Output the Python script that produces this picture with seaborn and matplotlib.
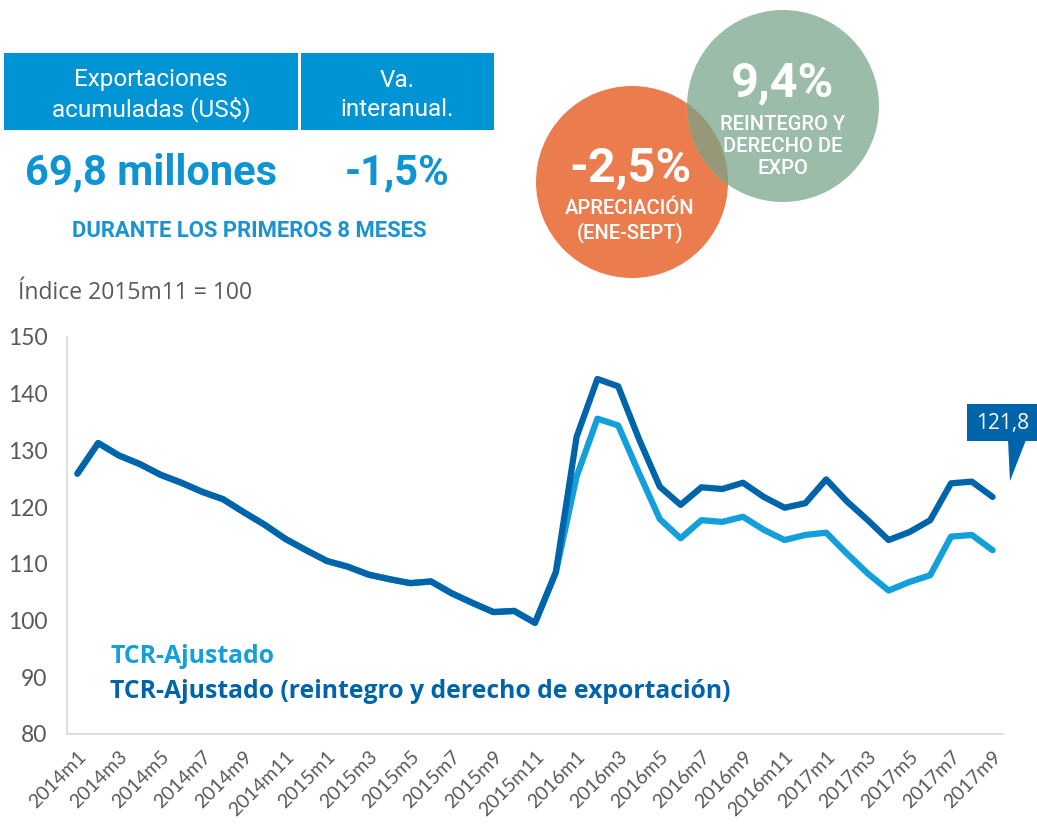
import matplotlib
matplotlib.use("Agg")
import matplotlib.pyplot as plt
import numpy as np
import pandas as pd
import seaborn as sns
from matplotlib.patches import Circle, Polygon, Rectangle

YEARS = [2014, 2015, 2016, 2017]
PERIODS = [f"{y}m{m}" for y in YEARS for m in range(1, 13)][:45]

TCR_REINTEGRO = [
    125.9, 131.3, 129.1, 127.6, 125.7, 124.3, 122.7, 121.4, 119.1, 116.9,
    114.4, 112.4, 110.5, 109.5, 108.1, 107.3, 106.6, 106.9, 104.8, 103.1,
    101.5, 101.7, 99.6, 108.5, 132.4, 142.6, 141.3, 132.0, 123.6, 120.4,
    123.5, 123.2, 124.3, 121.8, 119.9, 120.7, 124.9, 121.0, 117.7, 114.2,
    115.6, 117.7, 124.2, 124.5, 121.8,
]
TCR_AJUSTADO = [
    125.9, 131.3, 129.1, 127.6, 125.7, 124.3, 122.7, 121.4, 119.1, 116.9,
    114.4, 112.4, 110.5, 109.5, 108.1, 107.3, 106.6, 106.9, 104.8, 103.1,
    101.5, 101.7, 99.6, 108.5, 125.4, 135.6, 134.4, 126.0, 117.9, 114.5,
    117.7, 117.4, 118.3, 116.0, 114.2, 115.1, 115.5, 111.8, 108.3, 105.3,
    106.8, 108.0, 114.8, 115.1, 112.4,
]
Y_TICKS = [80, 90, 100, 110, 120, 130, 140, 150]

LIGHT = "#139FD9"
DARK = "#0064AA"
BOX_BLUE = "#0094D4"
GRAY = "#595959"

sns.set_style("white")
plt.rcParams["font.family"] = ["Lato", "DejaVu Sans"]

df = pd.DataFrame({
    "idx": np.arange(len(PERIODS)),
    "ajustado": TCR_AJUSTADO,
    "reintegro": TCR_REINTEGRO,
})

fig = plt.figure(figsize=(10.37, 8.26), dpi=100)
ax = fig.add_axes([67 / 1037, 1 - 734 / 826, (1003 - 67) / 1037, (734 - 337) / 826])

sns.lineplot(data=df, x="idx", y="ajustado", ax=ax, color=LIGHT, linewidth=4.5,
             solid_capstyle="round", solid_joinstyle="round")
sns.lineplot(data=df, x="idx", y="reintegro", ax=ax, color=DARK, linewidth=4.5,
             solid_capstyle="round", solid_joinstyle="round")

ax.set_xlim(-0.5, len(PERIODS) - 0.5)
ax.set_ylim(80, 150)
ax.set_yticks(Y_TICKS)
ax.set_yticklabels([str(v) for v in Y_TICKS], fontsize=16.5, color=GRAY)
ax.set_xticks(df["idx"][::2])
ax.set_xticklabels(PERIODS[::2], rotation=45, ha="right", rotation_mode="anchor",
                   fontsize=14, color=GRAY)
ax.tick_params(axis="y", length=0, pad=14)
ax.tick_params(axis="x", length=0, pad=10)
ax.set_xlabel("")
ax.set_ylabel("")
for side in ["top", "right"]:
    ax.spines[side].set_visible(False)
for side in ["left", "bottom"]:
    ax.spines[side].set_color("#D9D9D9")
    ax.spines[side].set_linewidth(1.2)

ax.text(0.046, 0.194, "TCR-Ajustado", transform=ax.transAxes, fontsize=17.8,
        fontweight="bold", color=LIGHT, va="center", family=["Open Sans", "DejaVu Sans"])
ax.text(0.046, 0.106, "TCR-Ajustado (reintegro y derecho de exportación)",
        transform=ax.transAxes, fontsize=17.8, fontweight="bold", color=DARK,
        va="center", family=["Open Sans", "DejaVu Sans"])

# overlay in pixel coordinates for header, bubbles and the callout
ov = fig.add_axes([0, 0, 1, 1], facecolor="none")
ov.set_xlim(0, 1037)
ov.set_ylim(826, 0)
ov.axis("off")

ov.add_patch(Rectangle((4, 53), 294, 77, color=BOX_BLUE, lw=0))
ov.add_patch(Rectangle((301, 53), 193, 77, color=BOX_BLUE, lw=0))
head = ["Roboto", "DejaVu Sans"]
ov.text(151, 95, "Exportaciones\nacumuladas (US$)", ha="center", va="center",
        color="white", fontsize=17.5, family=head, linespacing=1.32)
ov.text(397, 95, "Va.\ninteranual.", ha="center", va="center",
        color="white", fontsize=17.5, family=head, linespacing=1.32)
ov.text(151, 173, "69,8 millones", ha="center", va="center", color="#0E93D3",
        fontsize=30, fontweight="bold", family=head)
ov.text(397, 173, "-1,5%", ha="center", va="center", color="#0E93D3",
        fontsize=30, fontweight="bold", family=head)
ov.text(249, 231, "DURANTE LOS PRIMEROS 8 MESES", ha="center", va="center",
        color="#1A93D0", fontsize=15.8, fontweight="bold", family=head)
ov.text(18, 293, "Índice 2015m11 = 100", ha="left", va="center", color=GRAY,
        fontsize=16.5, family=["Open Sans", "DejaVu Sans"])

orange = Circle((632, 182), 96, color="#EB7C4E", lw=0)
green = Circle((783, 106), 96, color="#9BBCA8", lw=0)
ov.add_patch(orange)
ov.add_patch(green)
lens = Circle((783, 106), 96, color="#979877", lw=0)
ov.add_patch(lens)
lens.set_clip_path(orange)

ov.text(783, 84, "9,4%", ha="center", va="center", color="white", fontsize=35,
        fontweight="bold", family=head)
ov.text(783, 147, "REINTEGRO Y\nDERECHO DE\nEXPO", ha="center", va="center",
        color="white", fontsize=14.5, fontweight="medium", family=head, linespacing=1.2)
ov.text(630, 169, "-2,5%", ha="center", va="center", color="white", fontsize=35,
        fontweight="bold", family=head)
ov.text(630, 221, "APRECIACIÓN\n(ENE-SEPT)", ha="center", va="center",
        color="white", fontsize=14.5, fontweight="medium", family=head, linespacing=1.2)

ov.add_patch(Rectangle((967, 404), 80, 37, color=DARK, lw=0))
ov.add_patch(Polygon([(1008, 440), (1026, 440), (1010, 481)], closed=True, color=DARK, lw=0))
ov.text(1003, 423, "121,8", ha="center", va="center", color="white", fontsize=15,
        family=["Open Sans", "DejaVu Sans"])

fig.savefig("out.png", dpi=100)
